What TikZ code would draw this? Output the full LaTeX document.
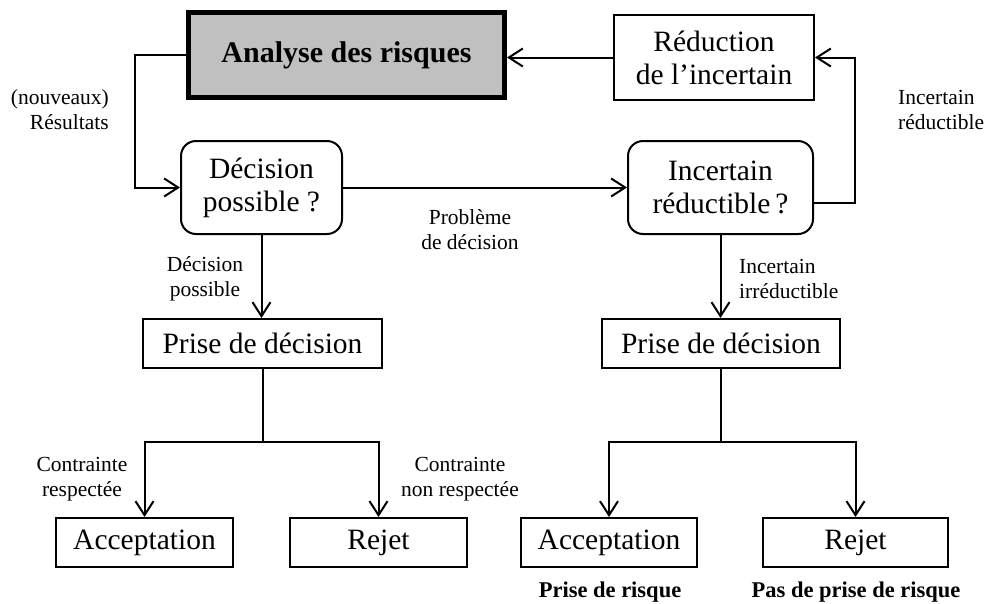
\documentclass[tikz,border=0pt]{standalone}
\usepackage{fontspec}
\setmainfont{Liberation Serif}
\usetikzlibrary{arrows.meta}
\definecolor{boxgray}{RGB}{192,192,192}
\begin{document}
\begin{tikzpicture}[x=1pt,y=-1pt,
  box/.style={draw, line width=2pt, inner sep=0pt, align=center, font=\fontsize{29.5}{33}\selectfont},
  rbox/.style={box, rounded corners=15pt},
  lbl/.style={inner sep=0pt, font=\fontsize{21.5}{25}\selectfont},
  blbl/.style={inner sep=0pt, font=\bfseries\fontsize{22.5}{25}\selectfont},
  conn/.style={line width=2pt},
  arr/.style={conn, -{Straight Barb[length=14pt,width=18pt]}}]
\useasboundingbox (0,0) rectangle (990,603);

% nodes
\node[box, line width=5pt, fill=boxgray, minimum width=316pt, minimum height=85pt,
      font=\bfseries\fontsize{30}{33}\selectfont] (ana) at (346.5,55) {Analyse des risques};
\node[box, minimum width=200pt, minimum height=85pt] (red) at (714,57.5) {Réduction\\de l’incertain};
\node[rbox, minimum width=161pt, minimum height=93pt] (dec) at (261.5,187.5) {Décision\\possible~?};
\node[rbox, minimum width=185pt, minimum height=93pt] (inc) at (720.5,187.5) {Incertain\\réductible\,?};
\node[box, minimum width=239pt, minimum height=49pt] (pd1) at (262.5,343.5) {Prise de décision};
\node[box, minimum width=238pt, minimum height=49pt] (pd2) at (721,343.5) {Prise de décision};
\node[box, minimum width=177pt, minimum height=49pt] (acc1) at (144.5,542.5) {Acceptation};
\node[box, minimum width=177pt, minimum height=49pt] (rej1) at (378.5,542.5) {Rejet};
\node[box, minimum width=176pt, minimum height=49pt] (acc2) at (609,542.5) {Acceptation};
\node[box, minimum width=185pt, minimum height=49pt] (rej2) at (855.5,542.5) {Rejet};

% helper coordinates
\coordinate (lft) at (135,0);
\coordinate (rgt) at (855,0);
\coordinate (br1) at (262.5,442);
\coordinate (br2) at (721,442);

% connectors
\draw[arr] (red.west) -- (red.west -| ana.east);
\draw[arr] (ana.west) -- (ana.west -| lft) |- (dec.west);
\draw[arr] (dec.east) -- (inc.west);
\draw[arr] ([yshift=-15pt]inc.east) -- ([yshift=-15pt]inc.east -| rgt) |- (red.east);
\draw[arr] (dec.south) -- (dec.south |- pd1.north);
\draw[arr] (inc.south) -- (inc.south |- pd2.north);
\draw[conn] (pd1.south) -- (br1);
\draw[arr] (br1) -| (acc1.north);
\draw[arr] (br1) -| (rej1.north);
\draw[conn] (pd2.south) -- (br2);
\draw[arr] (br2) -| (acc2.north);
\draw[arr] (br2) -| (rej2.north);

% labels
\node[lbl, align=right, anchor=east] (l1) at (109,110) {(nouveaux)\\Résultats};
\node[lbl, align=center] (l2) at (470,229.5) {Problème\\de décision};
\node[lbl, align=center] (l3) at (205,279) {Décision\\possible};
\node[lbl, align=left, anchor=west] (l4) at (739,279) {Incertain\\irréductible};
\node[lbl, align=left, anchor=west] (l5) at (898,110) {Incertain\\réductible};
\node[lbl, align=center] (l6) at (82,479.5) {Contrainte\\respectée};
\node[lbl, align=center] (l7) at (460,479.5) {Contrainte\\non respectée};
\node[blbl] (l8) at (610,592) {Prise de risque};
\node[blbl] (l9) at (856,592) {Pas de prise de risque};
\end{tikzpicture}
\end{document}
